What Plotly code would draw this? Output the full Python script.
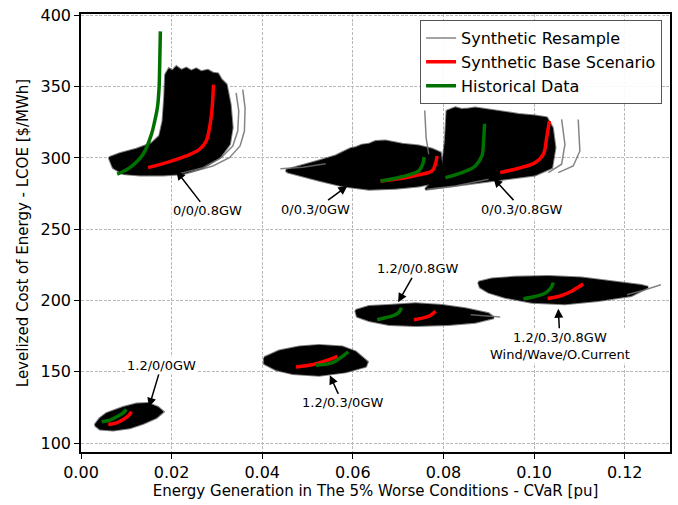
import plotly.graph_objects as go

# ---------------- data ----------------
# Envelope of the synthetic-resample cloud for each scenario
ENV_A_X = [0.00623, 0.00858, 0.01224, 0.01554, 0.01737, 0.01811, 0.01847, 0.01869, 0.01943, 0.02016, 0.02104, 0.02214,
           0.02324, 0.02434, 0.02544, 0.02654, 0.02800, 0.02910, 0.03021, 0.03094, 0.03204, 0.03292, 0.03336, 0.03277,
           0.03057, 0.02690, 0.02250, 0.01811, 0.01298, 0.00931, 0.00711]
ENV_A_Y = [300.2, 303.0, 306.1, 310.0, 315.4, 325.9, 342.2, 358.5, 362.5, 361.0, 364.0, 361.5,
           363.0, 361.0, 362.5, 360.5, 361.5, 359.5, 359.0, 355.0, 351.5, 337.5, 321.2, 309.6,
           300.2, 293.2, 289.0, 288.1, 288.1, 289.0, 293.2]

ENV_B_X = [0.04523, 0.04890, 0.05256, 0.05623, 0.05843, 0.05950, 0.06063, 0.06200, 0.06356, 0.06500, 0.06722, 0.06900,
           0.07089, 0.07455, 0.07749, 0.07932, 0.08000, 0.07455, 0.06942, 0.06356, 0.05769, 0.05256, 0.04816, 0.04559]
ENV_B_Y = [291.4, 294.4, 297.9, 301.4, 305.1, 306.5, 307.2, 309.0, 309.6, 311.5, 311.9, 311.0,
           309.6, 308.4, 306.1, 303.6, 283.9, 280.4, 278.8, 278.1, 280.4, 284.4, 288.1, 290.2]

ENV_C_X = [0.07602, 0.07968, 0.08042, 0.08079, 0.08262, 0.08400, 0.08555, 0.08700, 0.08922, 0.09100, 0.09288, 0.09450,
           0.09655, 0.09850, 0.10021, 0.10278, 0.10402, 0.10461, 0.10388, 0.10021, 0.09288, 0.08555, 0.07968]
ENV_C_Y = [278.1, 290.9, 311.9, 332.9, 335.2, 334.0, 334.3, 335.0, 334.0, 333.0, 332.4, 331.5,
           330.5, 330.0, 329.4, 328.2, 321.2, 307.2, 293.2, 288.1, 285.1, 281.6, 279.3]

ENV_D_X = [0.06063, 0.06356, 0.06796, 0.07382, 0.07968, 0.08482, 0.08995, 0.09105, 0.08702, 0.08115, 0.07382, 0.06796,
           0.06356, 0.06099]
ENV_D_Y = [193.0, 195.8, 196.5, 197.7, 196.5, 194.2, 190.7, 187.9, 184.8, 183.2, 182.5, 183.2, 186.0, 188.8]

ENV_E_X = [0.08775, 0.09068, 0.09581, 0.10315, 0.11048, 0.11781, 0.12367, 0.12514, 0.12147, 0.11414, 0.10680, 0.09948,
           0.09361, 0.08995, 0.08812]
ENV_E_Y = [212.8, 215.1, 216.3, 216.8, 215.8, 212.8, 210.5, 209.3, 203.5, 200.0, 197.7, 198.8, 202.3, 205.8, 209.3]

ENV_F_X = [0.04047, 0.04377, 0.04816, 0.05256, 0.05769, 0.06063, 0.06319, 0.06283, 0.05843, 0.05256, 0.04670, 0.04303,
           0.04047]
ENV_F_Y = [159.9, 164.6, 167.4, 168.5, 167.4, 163.9, 156.9, 153.8, 149.9, 147.5, 148.7, 151.5, 155.7]

ENV_G_X = [0.00308, 0.00418, 0.00564, 0.00931, 0.01224, 0.01481, 0.01701, 0.01811, 0.01664, 0.01371, 0.01078, 0.00711,
           0.00418]
ENV_G_Y = [112.6, 117.2, 120.7, 124.9, 127.3, 127.7, 124.9, 121.9, 117.9, 113.8, 110.7, 109.1, 109.8]

# A few individual resample curves that stick out of the clouds
RES_1_X = [0.02177, 0.02690, 0.03094, 0.03350, 0.03460, 0.03482, 0.03424]
RES_1_Y = [289.0, 293.2, 300.2, 308.4, 318.9, 332.9, 345.7]
RES_2_X = [0.02397, 0.02910, 0.03277, 0.03511, 0.03607, 0.03621, 0.03570]
RES_2_Y = [289.7, 294.4, 300.2, 308.4, 318.9, 335.2, 348.0]
RES_3_X = [0.10314, 0.10608, 0.10681, 0.10608]
RES_3_Y = [289.7, 295.6, 309.5, 327.0]
RES_4_X = [0.10534, 0.10864, 0.11011, 0.10974]
RES_4_Y = [289.7, 294.4, 304.9, 327.0]
RES_5_X = [0.07675, 0.07617, 0.07587]
RES_5_Y = [302.6, 314.2, 333.3]
RES_6_X = [0.07639, 0.08262, 0.08995]
RES_6_Y = [278.1, 280.4, 285.1]
RES_7_X = [0.04400, 0.04900, 0.05400]
RES_7_Y = [292.5, 293.5, 296.0]
RES_8_X = [0.12050, 0.12400, 0.12800]
RES_8_Y = [204.0, 207.0, 211.0]
RES_9_X = [0.08600, 0.08950, 0.09250]
RES_9_Y = [190.0, 189.0, 188.5]

# Synthetic base scenario (red)
BASE_A_X = [0.0148, 0.01884, 0.02324, 0.02617, 0.02764, 0.02837, 0.02888, 0.02925]
BASE_A_Y = [293.2, 296.7, 301.4, 306.1, 311.9, 321.2, 332.9, 351.5]
BASE_B_X = [0.06612, 0.07089, 0.07455, 0.07749, 0.07822, 0.07859]
BASE_B_Y = [283.9, 285.8, 288.1, 290.9, 295.6, 301.4]
BASE_C_X = [0.09252, 0.09655, 0.10021, 0.10205, 0.10278, 0.10337]
BASE_C_Y = [289.7, 292.8, 296.7, 302.6, 314.2, 325.9]
BASE_D_X = [0.07346, 0.07529, 0.07712, 0.07822]
BASE_D_Y = [186.5, 187.6, 189.5, 192.5]
BASE_E_X = [0.10299, 0.10607, 0.10827, 0.10974, 0.11084]
BASE_E_Y = [201.4, 203.5, 206.5, 209.3, 211.6]
BASE_F_X = [0.04743, 0.05036, 0.05256, 0.05476, 0.05659]
BASE_F_Y = [153.4, 154.5, 156.2, 158.5, 160.8]
BASE_G_X = [0.00601, 0.00784, 0.00931, 0.01041, 0.01114]
BASE_G_Y = [113.0, 114.2, 116.5, 118.9, 121.9]

# Historical data (green)
HIST_A_X = [0.00799, 0.01078, 0.0137, 0.01555, 0.01627, 0.01686, 0.01723, 0.01737, 0.01752]
HIST_A_Y = [288.6, 293.2, 302.6, 316.6, 325.9, 335.2, 349.2, 365.5, 388.8]
HIST_B_X = [0.06612, 0.06942, 0.07235, 0.07455, 0.07543, 0.07573]
HIST_B_Y = [283.9, 285.8, 288.1, 290.9, 295.6, 300.7]
HIST_C_X = [0.08042, 0.08408, 0.08702, 0.08848, 0.08885, 0.08907]
HIST_C_Y = [286.2, 289.7, 294.4, 301.4, 311.9, 324.0]
HIST_D_X = [0.06539, 0.06722, 0.06906, 0.07016, 0.07074]
HIST_D_Y = [186.5, 187.9, 189.5, 191.8, 194.9]
HIST_E_X = [0.09764, 0.1002, 0.1024, 0.10366, 0.10425]
HIST_E_Y = [201.2, 202.8, 205.1, 208.6, 212.6]
HIST_F_X = [0.05183, 0.05476, 0.05623, 0.05769, 0.05901]
HIST_F_Y = [154.5, 155.7, 157.6, 160.8, 163.9]
HIST_G_X = [0.00455, 0.00638, 0.00821, 0.00931, 0.01004]
HIST_G_Y = [114.9, 116.1, 118.9, 121.2, 123.5]

# Scenario labels: text, text position, arrow tip
LABELS = ["0/0/0.8GW", "0/0.3/0GW", "0/0.3/0.8GW", "1.2/0/0GW", "1.2/0.3/0GW", "1.2/0/0.8GW",
          "1.2/0.3/0.8GW<br>Wind/Wave/O.Current"]
LABEL_X = [0.02787, 0.05184, 0.09727, 0.01775, 0.05769, 0.07418, 0.10578]
LABEL_Y = [262.9, 264.1, 264.1, 154.5, 128.2, 222.2, 168.2]
TIP_X = [0.02105, 0.05879, 0.09105, 0.01502, 0.05492, 0.0700, 0.10534]
TIP_Y = [290.9, 280.4, 285.8, 125.4, 147.6, 198.8, 194.2]

X_TICKS = [0.00, 0.02, 0.04, 0.06, 0.08, 0.10, 0.12]
Y_TICKS = [100, 150, 200, 250, 300, 350, 400]

# ---------------- figure ----------------
FONT = "DejaVu Sans"
fig = go.Figure()

envs = [(ENV_A_X, ENV_A_Y), (ENV_B_X, ENV_B_Y), (ENV_C_X, ENV_C_Y), (ENV_D_X, ENV_D_Y),
        (ENV_E_X, ENV_E_Y), (ENV_F_X, ENV_F_Y), (ENV_G_X, ENV_G_Y)]
# dark grey fuzzy edge of the resample cloud
for ex, ey in envs:
    fig.add_trace(go.Scatter(x=ex + ex[:1], y=ey + ey[:1], mode="lines",
                             line=dict(color="rgba(40,40,40,0.6)", width=3),
                             showlegend=False, hoverinfo="skip"))
for ex, ey in envs:
    fig.add_trace(go.Scatter(x=ex + ex[:1], y=ey + ey[:1], mode="lines", fill="toself",
                             fillcolor="black", line=dict(color="black", width=1),
                             showlegend=False, hoverinfo="skip"))

res = [(RES_1_X, RES_1_Y), (RES_2_X, RES_2_Y), (RES_3_X, RES_3_Y), (RES_4_X, RES_4_Y),
       (RES_5_X, RES_5_Y), (RES_6_X, RES_6_Y), (RES_7_X, RES_7_Y), (RES_8_X, RES_8_Y), (RES_9_X, RES_9_Y)]
for i, (rx, ry) in enumerate(res):
    fig.add_trace(go.Scatter(x=rx, y=ry, mode="lines", line=dict(color="rgba(110,110,110,0.85)", width=1.5),
                             name="Synthetic Resample", legendgroup="res", showlegend=(i == 0)))

bases = [(BASE_A_X, BASE_A_Y), (BASE_B_X, BASE_B_Y), (BASE_C_X, BASE_C_Y), (BASE_D_X, BASE_D_Y),
         (BASE_E_X, BASE_E_Y), (BASE_F_X, BASE_F_Y), (BASE_G_X, BASE_G_Y)]
for i, (bx, by) in enumerate(bases):
    fig.add_trace(go.Scatter(x=bx, y=by, mode="lines", line=dict(color="#ff0000", width=3.5, shape="spline"),
                             name="Synthetic Base Scenario", legendgroup="base", showlegend=(i == 0)))

hists = [(HIST_A_X, HIST_A_Y), (HIST_B_X, HIST_B_Y), (HIST_C_X, HIST_C_Y), (HIST_D_X, HIST_D_Y),
         (HIST_E_X, HIST_E_Y), (HIST_F_X, HIST_F_Y), (HIST_G_X, HIST_G_Y)]
for i, (hx, hy) in enumerate(hists):
    fig.add_trace(go.Scatter(x=hx, y=hy, mode="lines", line=dict(color="#007000", width=3.5, shape="spline"),
                             name="Historical Data", legendgroup="hist", showlegend=(i == 0)))

for t, lx, ly, tx, ty in zip(LABELS, LABEL_X, LABEL_Y, TIP_X, TIP_Y):
    fig.add_annotation(x=tx, y=ty, ax=lx, ay=ly, axref="x", ayref="y", xref="x", yref="y",
                       text=t, showarrow=True, arrowhead=2, arrowsize=1.2, arrowwidth=1.5,
                       arrowcolor="black", bgcolor="white", borderpad=1,
                       font=dict(family=FONT, size=13, color="black"))

axis_common = dict(showline=True, linecolor="black", linewidth=1.5, mirror=True,
                   ticks="outside", ticklen=5, tickcolor="black", tickwidth=1.2,
                   showgrid=True, gridcolor="#b8b8b8", griddash="3px,1.5px", gridwidth=1,
                   zeroline=False, tickfont=dict(family=FONT, size=16, color="black"))

fig.update_layout(
    width=678, height=505,
    margin=dict(l=81, r=6, t=13, b=53),
    plot_bgcolor="white", paper_bgcolor="white",
    font=dict(family=FONT, size=16, color="black"),
    xaxis=dict(range=[0, 0.13], tickvals=X_TICKS, tickformat=".2f",
               title=dict(text="Energy Generation in The 5% Worse Conditions - CVaR [pu]",
                          font=dict(family=FONT, size=15), standoff=4),
               **axis_common),
    yaxis=dict(range=[93.7, 401], tickvals=Y_TICKS,
               title=dict(text="Levelized Cost of Energy - LCOE [$/MWh]",
                          font=dict(family=FONT, size=15), standoff=8),
               **axis_common),
    legend=dict(x=0.9865, y=0.986, xanchor="right", yanchor="top",
                bgcolor="rgba(255,255,255,0.9)", bordercolor="#555", borderwidth=1,
                font=dict(family=FONT, size=16), tracegroupgap=0),
)

fig.write_html("out.html")
